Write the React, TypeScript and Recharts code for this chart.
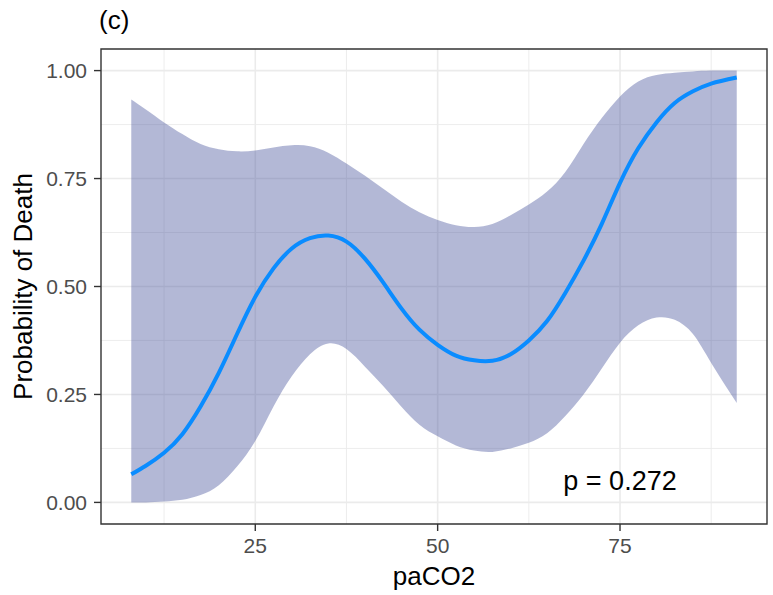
import React from 'react';
import {
  ComposedChart,
  Area,
  Line,
  XAxis,
  YAxis,
  CartesianGrid,
  ReferenceArea,
  ReferenceDot,
} from 'recharts';

// smoothed fit of probability of death against paCO2, with its confidence band
const paCO2 = [8, 10, 12.5, 15, 17.5, 20, 22.5, 25, 27.5, 30, 32.5, 35, 37.5, 40, 42.5, 45, 47.5, 50, 52.5, 55, 57.5, 60, 62.5, 65, 67.5, 70, 72.5, 75, 77.5, 80, 82.5, 85, 87.5, 91];
const fit = [0.065, 0.085, 0.115, 0.158, 0.222, 0.3, 0.39, 0.476, 0.542, 0.588, 0.612, 0.618, 0.604, 0.565, 0.51, 0.45, 0.4, 0.365, 0.34, 0.329, 0.328, 0.343, 0.375, 0.42, 0.485, 0.56, 0.645, 0.74, 0.82, 0.88, 0.925, 0.952, 0.97, 0.984];
const lower = [0, 0, 0.002, 0.006, 0.017, 0.04, 0.083, 0.142, 0.222, 0.292, 0.343, 0.368, 0.355, 0.315, 0.27, 0.222, 0.18, 0.153, 0.132, 0.12, 0.117, 0.125, 0.138, 0.16, 0.2, 0.25, 0.31, 0.37, 0.41, 0.428, 0.423, 0.39, 0.323, 0.23];
const upper = [0.933, 0.91, 0.88, 0.853, 0.83, 0.818, 0.813, 0.815, 0.822, 0.827, 0.825, 0.81, 0.785, 0.757, 0.727, 0.697, 0.672, 0.654, 0.642, 0.638, 0.645, 0.665, 0.69, 0.72, 0.765, 0.83, 0.89, 0.94, 0.975, 0.99, 0.995, 0.998, 1.0, 1.0];

const xTicks = [25, 50, 75];
const xMinor = [12.5, 37.5, 62.5, 87.5];
const yTicks = [0, 0.25, 0.5, 0.75, 1];
const yMinor = [0.125, 0.375, 0.625, 0.875];
const xDomain: [number, number] = [3.85, 95.15];
const yDomain: [number, number] = [-0.05, 1.05];

const pLabel = 'p = 0.272';
const pAt = { x: 75, y: 0.05 };

const data = paCO2.map((x, i) => ({ x, fit: fit[i], band: [lower[i], upper[i]] }));

const FONT = '"Liberation Sans", Arial, sans-serif';

const XTitle = (props: any) => {
  const { x, y, width } = props.viewBox;
  return (
    <text x={x + width / 2} y={y + 61} textAnchor="middle" fontSize={26} fontFamily={FONT} fill="#000">
      paCO2
    </text>
  );
};

const YTitle = (props: any) => {
  const { y, height } = props.viewBox;
  const cy = y + height / 2;
  return (
    <text x={32} y={cy} transform={`rotate(-90 32 ${cy})`} textAnchor="middle" fontSize={26} fontFamily={FONT} fill="#000">
      Probability of Death
    </text>
  );
};

export default function App() {
  return (
    <div style={{ position: 'absolute', left: 0, top: 0, width: 773, height: 595, background: '#fff' }}>
      <svg width={773} height={50} style={{ position: 'absolute', left: 0, top: 0 }}>
        <text x={99} y={29} fontSize={26} fontFamily={FONT} fill="#000">(c)</text>
      </svg>
      <ComposedChart width={773} height={595} data={data} margin={{ top: 49, right: 6, bottom: 0, left: 0 }}>
        <CartesianGrid verticalValues={xMinor} horizontalValues={yMinor} stroke="#EBEBEB" strokeWidth={0.9} fill="none" />
        <CartesianGrid verticalValues={xTicks} horizontalValues={yTicks} stroke="#EBEBEB" strokeWidth={1.6} fill="none" />
        <XAxis
          dataKey="x"
          type="number"
          domain={xDomain}
          ticks={xTicks}
          allowDataOverflow
          height={71}
          axisLine={false}
          tickSize={7}
          tickMargin={7}
          tickLine={{ stroke: '#333333', strokeWidth: 1.4 }}
          tick={{ fill: '#4D4D4D', fontSize: 21, fontFamily: FONT }}
          label={{ content: XTitle }}
        />
        <YAxis
          type="number"
          domain={yDomain}
          ticks={yTicks}
          allowDataOverflow
          width={101}
          axisLine={false}
          tickSize={7}
          tickMargin={7}
          tickFormatter={(v: number) => v.toFixed(2)}
          tickLine={{ stroke: '#333333', strokeWidth: 1.4 }}
          tick={{ fill: '#4D4D4D', fontSize: 21, fontFamily: FONT }}
          label={{ content: YTitle }}
        />
        <Area
          dataKey="band"
          type="natural"
          fill="#414E98"
          fillOpacity={0.4}
          stroke="none"
          isAnimationActive={false}
        />
        <Line
          dataKey="fit"
          type="natural"
          stroke="#0A8CFF"
          strokeWidth={4}
          dot={false}
          activeDot={false}
          isAnimationActive={false}
        />
        <ReferenceDot
          x={pAt.x}
          y={pAt.y}
          r={0}
          fill="none"
          stroke="none"
          label={{ value: pLabel, position: 'center', fontSize: 27, fontFamily: FONT, fill: '#000' }}
        />
        <ReferenceArea
          x1={xDomain[0]}
          x2={xDomain[1]}
          y1={yDomain[0]}
          y2={yDomain[1]}
          fill="none"
          stroke="#333333"
          strokeWidth={1.4}
          fillOpacity={0}
        />
      </ComposedChart>
    </div>
  );
}
